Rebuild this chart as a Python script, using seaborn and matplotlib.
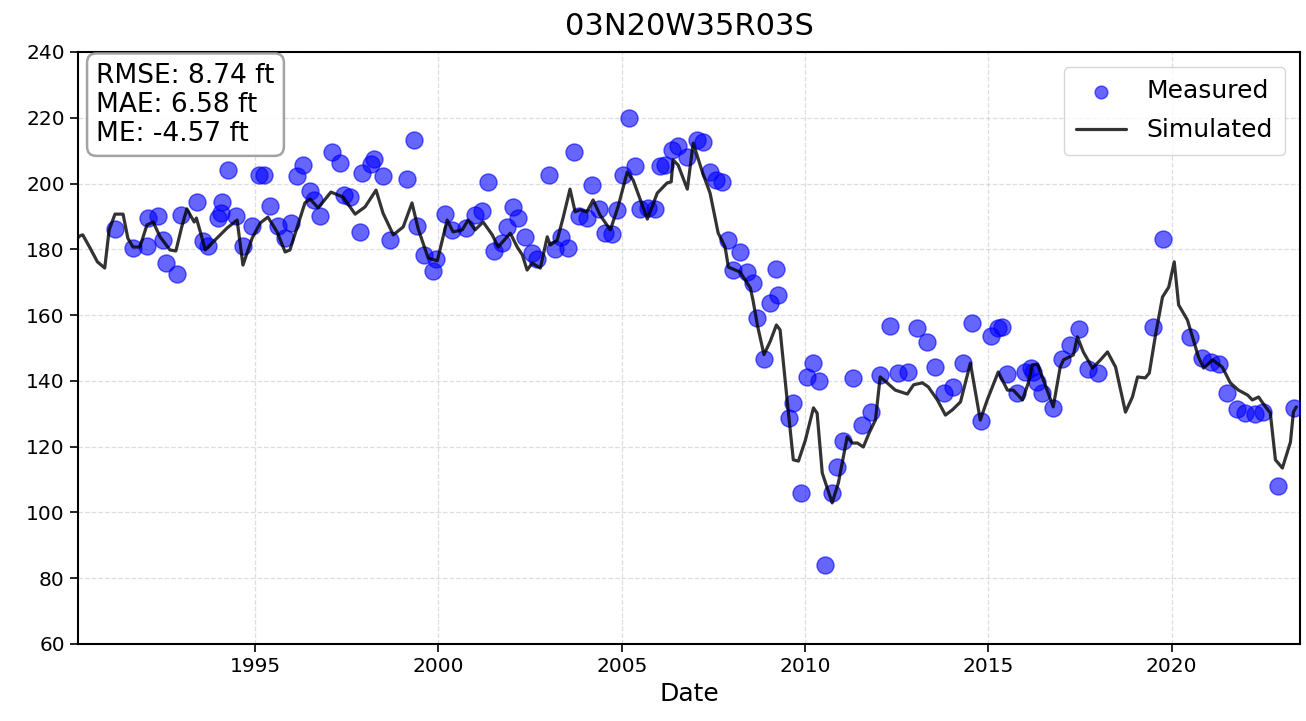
import numpy as np
import pandas as pd
import matplotlib
matplotlib.use("Agg")
import matplotlib.pyplot as plt
import seaborn as sns

title = "03N20W35R03S"
stats_text = "RMSE: 8.74 ft\nMAE: 6.58 ft\nME: -4.57 ft"
year_ticks = [1995, 2000, 2005, 2010, 2015, 2020]
y_ticks = [60, 80, 100, 120, 140, 160, 180, 200, 220, 240]

meas_year = [
    1991.18, 1991.67, 1992.05, 1992.08, 1992.35, 1992.49, 1992.57, 1992.87, 1992.98, 1993.42,
    1993.58, 1993.72, 1993.99, 1994.07, 1994.10, 1994.26, 1994.48, 1994.67, 1994.92, 1995.11,
    1995.25, 1995.41, 1995.63, 1995.82, 1995.98, 1996.15, 1996.31, 1996.50, 1996.61, 1996.77,
    1997.10, 1997.32, 1997.43, 1997.59, 1997.86, 1997.92, 1998.17, 1998.25, 1998.49, 1998.68,
    1999.15, 1999.34, 1999.42, 1999.61, 1999.86, 1999.94, 2000.18, 2000.37, 2000.76, 2001.00,
    2001.19, 2001.36, 2001.52, 2001.74, 2001.88, 2002.04, 2002.18, 2002.37, 2002.56, 2002.69,
    2003.02, 2003.19, 2003.35, 2003.54, 2003.71, 2003.84, 2004.06, 2004.19, 2004.39, 2004.55,
    2004.74, 2004.88, 2005.04, 2005.20, 2005.37, 2005.50, 2005.72, 2005.91, 2006.05, 2006.19,
    2006.38, 2006.54, 2006.79, 2007.06, 2007.22, 2007.41, 2007.58, 2007.74, 2007.91, 2008.04,
    2008.23, 2008.42, 2008.59, 2008.70, 2008.89, 2009.05, 2009.22, 2009.27, 2009.57, 2009.68,
    2009.90, 2010.06, 2010.23, 2010.39, 2010.55, 2010.74, 2010.88, 2011.04, 2011.32, 2011.56,
    2011.81, 2012.05, 2012.33, 2012.54, 2012.82, 2013.06, 2013.34, 2013.55, 2013.80, 2014.04,
    2014.32, 2014.56, 2014.81, 2015.08, 2015.27, 2015.38, 2015.52, 2015.79, 2016.01, 2016.15,
    2016.23, 2016.34, 2016.47, 2016.75, 2017.02, 2017.24, 2017.48, 2017.73, 2018.00, 2019.50,
    2019.77, 2020.51, 2020.84, 2021.06, 2021.28, 2021.52, 2021.79, 2022.01, 2022.26, 2022.50,
    2022.89, 2023.35,
]
meas_value = [
    186.2, 180.4, 181.0, 189.5, 190.1, 182.8, 175.8, 172.5, 190.4, 194.4,
    182.5, 181.0, 189.5, 191.0, 194.4, 204.1, 190.1, 181.0, 187.0, 202.6,
    202.6, 193.2, 187.0, 183.4, 188.0, 202.3, 205.6, 197.7, 195.0, 190.1,
    209.6, 206.3, 196.5, 195.9, 185.3, 203.2, 206.0, 207.5, 202.3, 182.8,
    201.4, 213.2, 187.0, 178.3, 173.4, 177.1, 190.7, 186.0, 186.5, 190.4,
    191.7, 200.5, 179.5, 182.0, 186.8, 192.9, 189.5, 183.8, 178.9, 177.1,
    202.6, 180.1, 183.8, 180.4, 209.6, 190.1, 189.5, 199.6, 192.3, 185.0,
    184.6, 192.0, 202.6, 219.9, 205.3, 192.3, 192.6, 192.3, 205.3, 205.6,
    210.2, 211.4, 208.1, 213.2, 212.6, 203.5, 201.1, 200.5, 182.8, 173.7,
    179.2, 173.1, 169.8, 159.1, 146.7, 163.7, 174.0, 166.1, 128.7, 133.3,
    105.9, 141.2, 145.4, 140.0, 84.0, 105.9, 113.8, 121.7, 140.9, 126.6,
    130.5, 141.8, 156.7, 142.4, 142.7, 156.1, 151.8, 144.2, 136.3, 138.1,
    145.4, 157.6, 127.8, 153.7, 156.1, 156.4, 142.1, 136.3, 142.7, 143.9,
    142.7, 139.7, 136.3, 131.8, 146.7, 150.9, 155.8, 143.6, 142.4, 156.4,
    183.1, 153.4, 147.0, 145.7, 145.1, 136.3, 131.5, 130.3, 130.0, 130.6,
    108.0, 131.8,
]

sim_year = [
    1990.17, 1990.22, 1990.30, 1990.50, 1990.70, 1990.90, 1991.02, 1991.18, 1991.40, 1991.53,
    1991.67, 1991.86, 1992.05, 1992.22, 1992.41, 1992.68, 1992.84, 1993.00, 1993.14, 1993.34,
    1993.40, 1993.53, 1993.64, 1993.96, 1994.24, 1994.51, 1994.67, 1994.92, 1995.14, 1995.35,
    1995.60, 1995.82, 1995.95, 1996.15, 1996.36, 1996.50, 1996.72, 1997.07, 1997.40, 1997.73,
    1998.00, 1998.30, 1998.49, 1998.77, 1999.04, 1999.28, 1999.45, 1999.72, 1999.97, 2000.24,
    2000.40, 2000.65, 2000.81, 2001.00, 2001.22, 2001.47, 2001.63, 2001.96, 2002.15, 2002.29,
    2002.42, 2002.56, 2002.78, 2002.97, 2003.05, 2003.24, 2003.40, 2003.59, 2003.73, 2003.87,
    2004.05, 2004.22, 2004.41, 2004.69, 2004.90, 2005.15, 2005.31, 2005.70, 2005.97, 2006.24,
    2006.35, 2006.40, 2006.54, 2006.79, 2006.95, 2007.20, 2007.41, 2007.63, 2007.82, 2007.91,
    2008.23, 2008.51, 2008.58, 2008.70, 2008.88, 2009.05, 2009.22, 2009.32, 2009.52, 2009.68,
    2009.82, 2010.01, 2010.23, 2010.33, 2010.47, 2010.74, 2010.91, 2011.15, 2011.29, 2011.43,
    2011.59, 2011.75, 2011.92, 2012.05, 2012.24, 2012.46, 2012.79, 2012.96, 2013.20, 2013.36,
    2013.61, 2013.83, 2014.02, 2014.24, 2014.51, 2014.78, 2014.97, 2015.27, 2015.52, 2015.68,
    2015.93, 2016.09, 2016.20, 2016.34, 2016.50, 2016.77, 2016.96, 2017.05, 2017.32, 2017.43,
    2017.59, 2017.84, 2018.06, 2018.25, 2018.47, 2018.74, 2018.93, 2019.07, 2019.28, 2019.39,
    2019.56, 2019.75, 2019.92, 2020.07, 2020.19, 2020.43, 2020.73, 2020.87, 2021.12, 2021.38,
    2021.60, 2021.82, 2022.07, 2022.20, 2022.37, 2022.56, 2022.69, 2022.83, 2023.02, 2023.24,
    2023.32, 2023.40,
]
sim_value = [
    183.5, 184.1, 184.4, 180.4, 176.2, 174.3, 185.9, 190.7, 190.7, 183.4,
    180.7, 180.7, 187.4, 188.3, 183.8, 179.8, 179.5, 186.8, 192.3, 188.3,
    189.5, 184.4, 179.8, 183.4, 186.5, 188.9, 175.2, 183.4, 188.0, 189.8,
    185.3, 179.2, 179.8, 186.8, 194.1, 195.3, 192.6, 197.4, 195.9, 190.7,
    192.9, 198.0, 191.0, 184.4, 186.8, 194.1, 186.2, 177.4, 176.5, 188.9,
    185.3, 185.9, 188.9, 185.9, 188.3, 184.4, 180.7, 184.9, 180.7, 178.3,
    173.7, 175.8, 174.3, 183.8, 181.3, 182.8, 189.5, 198.3, 191.4, 192.0,
    191.4, 195.0, 190.4, 185.9, 192.9, 203.5, 201.1, 189.2, 197.1, 200.2,
    200.5, 207.2, 205.6, 198.3, 212.3, 203.5, 197.1, 185.0, 180.7, 174.6,
    173.1, 168.2, 164.6, 157.0, 148.0, 152.0, 157.0, 155.5, 133.3, 116.0,
    115.6, 122.0, 131.8, 130.2, 112.0, 102.9, 109.0, 123.0, 121.1, 121.1,
    119.9, 124.2, 128.1, 141.2, 139.4, 137.2, 136.0, 138.8, 139.4, 138.2,
    134.2, 129.6, 131.2, 133.6, 145.4, 128.1, 134.2, 142.7, 137.2, 137.2,
    134.2, 139.4, 144.8, 145.1, 140.3, 132.1, 144.2, 146.4, 147.9, 153.4,
    148.8, 143.9, 146.4, 148.8, 144.2, 130.5, 135.1, 141.2, 140.9, 142.4,
    154.0, 165.5, 168.5, 176.2, 163.1, 158.5, 147.3, 143.9, 146.4, 144.2,
    139.4, 137.2, 135.7, 134.2, 135.1, 132.1, 130.3, 116.0, 113.5, 121.4,
    130.5, 132.1,
]

meas_df = pd.DataFrame({"Date": meas_year, "Value": meas_value})
sim_df = pd.DataFrame({"Date": sim_year, "Value": sim_value})

sns.set_theme(style="white")
plt.rcParams["font.family"] = ["DejaVu Sans"]
plt.rcParams["text.color"] = "black"
plt.rcParams["axes.labelcolor"] = "black"
plt.rcParams["xtick.color"] = "black"
plt.rcParams["ytick.color"] = "black"

fig = plt.figure(figsize=(13.06, 7.21), dpi=100)
ax = fig.add_axes([0.0597, 0.1068, 0.9357, 0.8211])

sns.scatterplot(data=meas_df, x="Date", y="Value", ax=ax, color="blue", alpha=0.6,
                s=150, edgecolor="blue", linewidth=1.0, label="Measured", zorder=3)
sns.lineplot(data=sim_df, x="Date", y="Value", ax=ax, color="black", alpha=0.8,
             linewidth=2.3, sort=False, estimator=None, label="Simulated", zorder=4)

ax.set_xlim(1990.17, 2023.5)
ax.set_ylim(60, 240)
ax.set_xticks(year_ticks)
ax.set_xticklabels([str(y) for y in year_ticks])
ax.set_yticks(y_ticks)
ax.tick_params(axis="both", labelsize=14.5, length=6, width=1.2, direction="out",
               bottom=True, left=True, colors="black")
ax.grid(True, linestyle="--", color="#d0d0d0", linewidth=0.9, alpha=0.7)
for sp in ax.spines.values():
    sp.set_color("black")
    sp.set_linewidth(1.5)

ax.set_xlabel("Date", fontsize=18, labelpad=4, color="black")
ax.set_ylabel("")
ax.set_title(title, fontsize=22, pad=12, color="black")

ax.text(0.015, 0.982, stats_text, transform=ax.transAxes, fontsize=19, va="top", ha="left",
        linespacing=1.15, color="black",
        bbox=dict(boxstyle="round,pad=0.35", facecolor="white", edgecolor="#999999",
                  linewidth=1.8, alpha=0.9), zorder=6)

leg = ax.legend(loc="upper right", fontsize=18, frameon=True, borderpad=0.5,
                handlelength=2.0, labelspacing=0.6, markerscale=0.75,
                borderaxespad=0.6)
leg.get_frame().set_edgecolor("#cccccc")
leg.get_frame().set_linewidth(1.0)
for t in leg.get_texts():
    t.set_color("black")

fig.savefig("out.png", dpi=100)
